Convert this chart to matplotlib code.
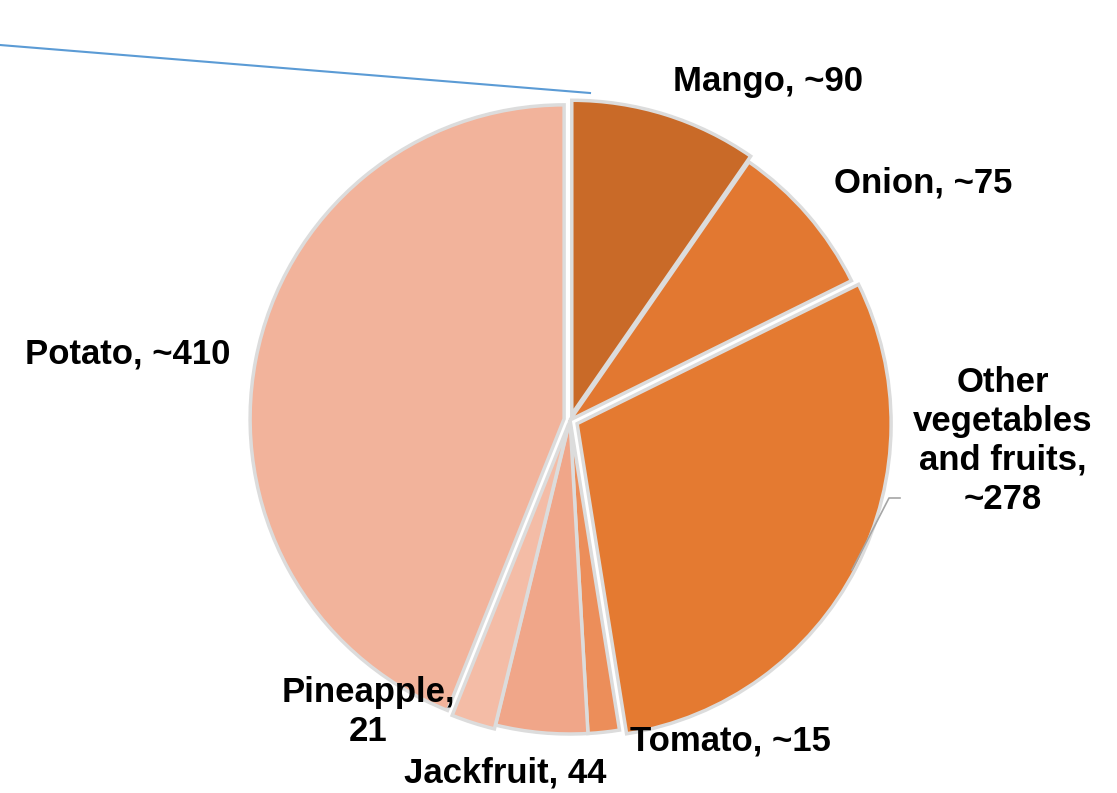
import matplotlib.pyplot as plt
from matplotlib.lines import Line2D

CATEGORIES = ["Mango", "Onion", "Other vegetables and fruits", "Tomato",
              "Jackfruit", "Pineapple", "Potato"]
VALUES = [90, 75, 278, 15, 44, 21, 410]
LABELS = ["Mango, ~90", "Onion, ~75", "Other\nvegetables\nand fruits,\n~278",
          "Tomato, ~15", "Jackfruit, 44", "Pineapple,\n21", "Potato, ~410"]
COLORS = ["#C96A28", "#E27831", "#E47A31", "#EC8E5A", "#F0A689", "#F4BCA6", "#F2B39B"]
# offsets in pixels (pie explode is in data units here)
EXPLODE = [6, 0, 8, 0, 0, 4, 6]

# label anchor points in pixel space (x, y from top)
LABEL_POS = [(768, 82), (923, 183), (1003, 441), (730, 741),
             (505, 773), (368, 712), (128, 354)]

W, H = 1117, 793
plt.rcParams["font.family"] = ["Liberation Sans", "DejaVu Sans"]

fig = plt.figure(figsize=(W / 100, H / 100), dpi=100)
ax = fig.add_axes([0, 0, 1, 1])

center = (570, H - 420)
radius = 314
ax.pie(VALUES, colors=COLORS, explode=EXPLODE, startangle=90, counterclock=False,
       center=center, radius=radius, frame=True,
       wedgeprops=dict(edgecolor="#dcdcdc", linewidth=2.5))
ax.set_xlim(0, W)
ax.set_ylim(0, H)
ax.set_aspect("equal")
ax.axis("off")

for label, (x, y) in zip(LABELS, LABEL_POS):
    ax.text(x, H - y, label, ha="center", va="center", fontsize=25,
            fontweight="bold", color="black", linespacing=1.22)

# leader line for the "Other" label
ax.plot([900, 889, 852], [H - 498, H - 498, H - 570], color="#a6a6a6", lw=1.2)

# stray blue line at the top
fig.add_artist(Line2D([0 / W, 590 / W], [1 - 45 / H, 1 - 93 / H],
                      color="#5B9BD5", lw=1.5))

fig.savefig("out.png", dpi=100)
